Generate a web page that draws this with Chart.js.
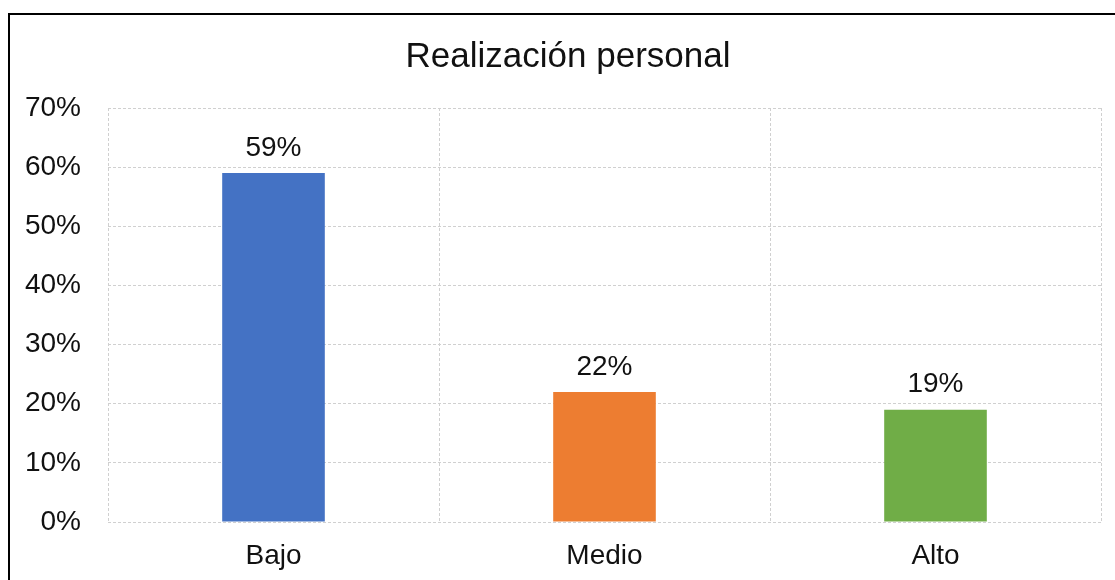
<!DOCTYPE html>
<html>
<head>
<meta charset="utf-8">
<script src="https://cdn.jsdelivr.net/npm/chart.js@4.4.1/dist/chart.umd.min.js"></script>
<style>
  html, body { margin:0; padding:0; background:#fff; overflow:hidden; }
  #wrap { position:absolute; left:0; top:0; width:1115px; height:580px; }
  #frame { position:absolute; left:8px; top:13px; width:1200px; height:700px; border-left:2px solid #000; border-top:2px solid #000; pointer-events:none; }
  canvas { position:absolute; left:0; top:0; }
</style>
</head>
<body>
<div id="wrap"><canvas id="c" width="1115" height="580"></canvas><div id="frame"></div></div>
<script>
const categories = ["Bajo", "Medio", "Alto"];
const values = [59, 22, 19];
const barColors = ["#4472C4", "#ED7D31", "#70AD47"];
const yTicks = [0, 10, 20, 30, 40, 50, 60, 70];
const titleText = "Realización personal";

const FONT = "'Liberation Sans', Arial, sans-serif";

const labelPlugin = {
  id: 'valueLabels',
  beforeDraw(chart) {
    // let the y tick labels extend left of the axis box (no clipping)
    chart.scales.y.left = 0;
  },
  afterDatasetsDraw(chart) {
    const ctx = chart.ctx;
    const meta = chart.getDatasetMeta(0);
    ctx.save();
    ctx.font = "28px " + FONT;
    ctx.fillStyle = "#111";
    ctx.textAlign = "center";
    ctx.textBaseline = "bottom";
    meta.data.forEach((bar, i) => {
      ctx.fillText(values[i] + "%", bar.x, bar.y - 11);
    });
    ctx.restore();
  }
};

new Chart(document.getElementById('c'), {
  type: 'bar',
  data: {
    labels: categories,
    datasets: [{
      data: values,
      backgroundColor: barColors,
      borderWidth: 0,
      barPercentage: 0.31,
      categoryPercentage: 1.0
    }]
  },
  options: {
    responsive: false,
    animation: false,
    devicePixelRatio: 1,
    layout: { padding: { left: 35, right: 14, top: 0, bottom: 0 } },
    plugins: {
      legend: { display: false },
      tooltip: { enabled: false },
      title: {
        display: true,
        text: titleText,
        color: "#111",
        font: { family: FONT, size: 35, weight: 'normal' },
        padding: { top: 36, bottom: 30 }
      }
    },
    scales: {
      x: {
        grid: { display: true, offset: true, color: "#d0d0d0", lineWidth: 1, drawTicks: false },
        border: { display: false, dash: [3, 2] },
        ticks: { color: "#111", font: { family: FONT, size: 28 }, padding: 17 },
        afterFit(scale) { scale.height = 58; }
      },
      y: {
        min: 0, max: 70,
        afterBuildTicks(scale) { scale.ticks = yTicks.map(v => ({ value: v })); },
        grid: { color: "#d0d0d0", lineWidth: 1, drawTicks: false },
        border: { display: false, dash: [3, 2] },
        ticks: { color: "#111", font: { family: FONT, size: 28 }, padding: 27,
                 callback: v => v + "%" },
        afterFit(scale) { scale.width = 73; }
      }
    }
  },
  plugins: [labelPlugin]
});
</script>
</body>
</html>
